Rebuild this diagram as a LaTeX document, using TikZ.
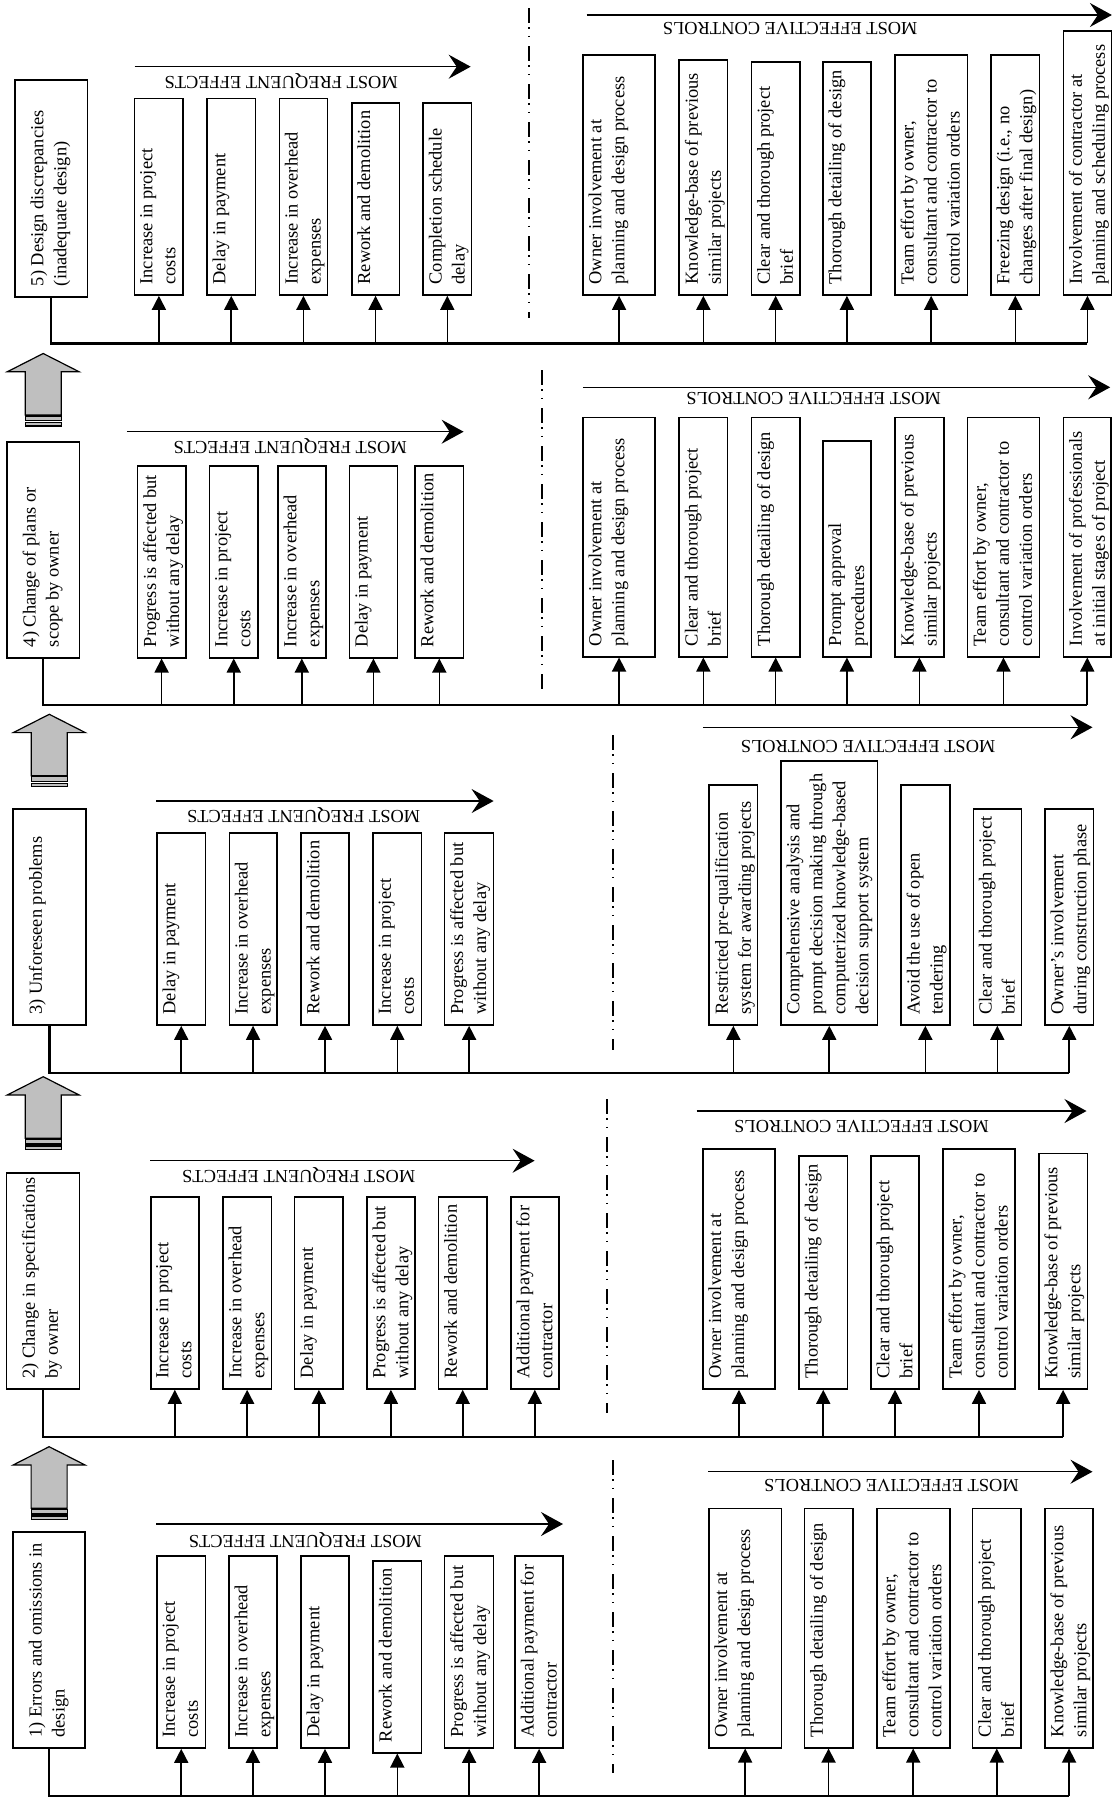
\documentclass[tikz,border=0pt]{standalone}
\usepackage{fontspec}
\setmainfont{Liberation Serif}
\usetikzlibrary{arrows.meta,fit}
\newcommand\bfnt{\fontsize{9.2pt}{11.5pt}\selectfont}
\tikzset{
 boxst/.style={draw, line width=0.8pt, inner sep=0pt},
 txtst/.style={rotate=90, align=left, inner sep=0pt, font=\bfnt},
 busst/.style={line width=1.2pt},
 arr/.style={line width=0.8pt, -{Triangle[length=7pt,width=7pt]}},
 longarr/.style={line width=0.7pt, -{Stealth[length=11pt,width=12pt,inset=4pt]}},
 lbl/.style={rotate=180, font=\bfnt, inner sep=0pt},
 sepst/.style={line width=0.9pt, dash pattern=on 7.5pt off 2.2pt on 0.7pt off 3.5pt on 0.7pt off 4.4pt},
 grayarr/.style={draw, fill=black!25, line width=0.6pt},
}
\newcommand\bx[6]{\node[boxst, fit={(#2,#3) (#4,#5)}] (#1) {};
 \node[txtst, anchor=north west] at ([xshift=3pt,yshift=5.5pt]#1.south west) {#6};}
\newcommand\cbx[6]{\node[boxst, fit={(#2,#3) (#4,#5)}] (#1) {};
 \node[txtst, anchor=north west] at ([xshift=8pt,yshift=5.5pt]#1.south west) {#6};}
\newcommand\grayup[2]{%
 \draw[grayarr] (#1,#2) -- (#1+36,#2+18.3) -- (#1+18,#2+18.3) -- (#1+18,#2+61.5) -- (#1-18,#2+61.5) -- (#1-18,#2+18.3) -- (#1-36,#2+18.3) -- cycle;
 \draw[grayarr] (#1-18,#2+62.5) rectangle (#1+18,#2+67.3);
 \draw[grayarr] (#1-18,#2+69.3) rectangle (#1+18,#2+72.5);}
\begin{document}
\begin{tikzpicture}[x=0.5pt,y=-0.5pt]
\useasboundingbox (0,0) rectangle (1113,1804);

% ---------------- Section 1 ----------------
\cbx{k1}{13.2}{1532}{85}{1748}{1) Errors and omissions in\\design}
\bx{e11}{157.1}{1556}{205.4}{1748}{Increase in project\\costs}
\bx{e12}{228.9}{1556}{276.8}{1748}{Increase in overhead\\expenses}
\bx{e13}{301.1}{1556}{348.9}{1748}{Delay in payment}
\bx{e14}{373.2}{1561}{421.4}{1752.7}{Rework and demolition}
\bx{e15}{444.6}{1556}{493.6}{1748}{Progress is affected but\\without any delay}
\bx{e16}{515}{1556}{563.2}{1748}{Additional payment for\\contractor}
\bx{c11}{708.8}{1508.3}{781.5}{1747.7}{Owner involvement at\\planning and design process}
\bx{c12}{804.4}{1508.3}{852.7}{1747.7}{Thorough detailing of design}
\bx{c13}{876.7}{1508.3}{949.7}{1747.7}{Team effort by owner,\\consultant and contractor to\\control variation orders}
\bx{c14}{972.6}{1508.3}{1021}{1747.7}{Clear and thorough project\\brief}
\bx{c15}{1044.9}{1508.3}{1093.2}{1747.7}{Knowledge-base of previous\\similar projects}
\coordinate (b1) at (0,1795.7);
\draw[busst] (k1.south) |- (c15.south |- b1);
\foreach \n in {e11,e12,e13,e14,e15,e16,c11,c12,c13,c14,c15} \draw[arr] (\n.south |- b1) -- (\n.south);
\node[lbl] (l1e) at (305.4,1540) {MOST FREQUENT EFFECTS};
\node[lbl] (l1c) at (891.5,1485) {MOST EFFECTIVE CONTROLS};
\draw[longarr] (156,1524) -- (563,1524);
\draw[longarr] (708.1,1471.7) -- (1092.5,1471.7);
\draw[sepst] (612.9,1460) -- (612.9,1773);
\grayup{49.1}{1446.7}

% ---------------- Section 2 ----------------
\cbx{k2}{6.4}{1172.7}{79.3}{1389}{2) Change in specifications\\by owner}
\bx{e21}{150.7}{1196.7}{198.9}{1389}{Increase in project\\costs}
\bx{e22}{222.9}{1196.7}{271.4}{1389}{Increase in overhead\\expenses}
\bx{e23}{294.6}{1196.7}{343.2}{1389}{Delay in payment}
\bx{e24}{366.8}{1196.7}{415}{1389}{Progress is affected but\\without any delay}
\bx{e25}{438.6}{1196.7}{486.8}{1389}{Rework and demolition}
\bx{e26}{510.7}{1196.7}{558.9}{1389}{Additional payment for\\contractor}
\bx{c21}{702.8}{1149}{775.1}{1389}{Owner involvement at\\planning and design process}
\bx{c22}{799.1}{1156}{847.4}{1389}{Thorough detailing of design}
\bx{c23}{871}{1156}{919}{1389}{Clear and thorough project\\brief}
\bx{c24}{943}{1149}{1015}{1389}{Team effort by owner,\\consultant and contractor to\\control variation orders}
\bx{c25}{1038.9}{1153.3}{1087.3}{1389}{Knowledge-base of previous\\similar projects}
\coordinate (b2) at (0,1436.7);
\draw[busst] (k2.south) |- (c25.south |- b2);
\foreach \n in {e21,e22,e23,e24,e25,e26,c21,c22,c23,c24,c25} \draw[arr] (\n.south |- b2) -- (\n.south);
\node[lbl] (l2e) at (298.8,1175) {MOST FREQUENT EFFECTS};
\node[lbl] (l2c) at (861.5,1126.3) {MOST EFFECTIVE CONTROLS};
\draw[longarr] (150,1160.7) -- (534.6,1160.7);
\draw[longarr] (696.5,1111) -- (1086.5,1111);
\draw[sepst] (606.9,1099) -- (606.9,1413);
\grayup{43.2}{1076.7}

% ---------------- Section 3 ----------------
\cbx{k3}{13.2}{809}{85.7}{1025}{3) Unforeseen problems}
\bx{e31}{157.1}{832.7}{205.4}{1025}{Delay in payment}
\bx{e32}{229.3}{832.7}{276.8}{1025}{Increase in overhead\\expenses}
\bx{e33}{301.1}{832.7}{348.9}{1025}{Rework and demolition}
\bx{e34}{373.2}{832.7}{421.4}{1025}{Increase in project\\costs}
\bx{e35}{444.6}{832.7}{493.6}{1025}{Progress is affected but\\without any delay}
\bx{c31}{709.2}{785}{757.5}{1025}{Restricted pre-qualification\\system for awarding projects}
\bx{c32}{781.1}{761}{877.4}{1025}{Comprehensive analysis and\\prompt decision making through\\computerized knowledge-based\\decision support system}
\bx{c33}{901}{785}{949.7}{1025}{Avoid the use of open\\tendering}
\bx{c34}{973.3}{809}{1021.3}{1025}{Clear and thorough project\\brief}
\bx{c35}{1044.9}{809}{1093.6}{1025}{Owner’s involvement\\during construction phase}
\coordinate (b3) at (0,1072.7);
\draw[busst] (k3.south) |- (c35.south |- b3);
\foreach \n in {e31,e32,e33,e34,e35,c31,c32,c33,c34,c35} \draw[arr] (\n.south |- b3) -- (\n.south);
\node[lbl] (l3e) at (303.6,815.5) {MOST FREQUENT EFFECTS};
\node[lbl] (l3c) at (868.1,746.2) {MOST EFFECTIVE CONTROLS};
\draw[longarr] (156,801) -- (493.6,801);
\draw[longarr] (702.8,727.3) -- (1092.5,727.3);
\draw[sepst] (612.9,735) -- (612.9,1050);
\grayup{49.3}{714.3}

% ---------------- Section 4 ----------------
\cbx{k4}{7.1}{441.7}{79.3}{657.7}{4) Change of plans or\\scope by owner}
\bx{e41}{137.5}{465.7}{185.7}{657.7}{Progress is affected but\\without any delay}
\bx{e42}{209.6}{465.7}{257.9}{657.7}{Increase in project\\costs}
\bx{e43}{277.9}{465.7}{325.7}{657.7}{Increase in overhead\\expenses}
\bx{e44}{349.3}{465.7}{397.5}{657.7}{Delay in payment}
\bx{e45}{415}{465.7}{463.6}{657.7}{Rework and demolition}
\bx{c41}{582.9}{417.3}{655.2}{656.7}{Owner involvement at\\planning and design process}
\bx{c42}{679.2}{417.3}{727.5}{656.7}{Clear and thorough project\\brief}
\bx{c43}{751.5}{417.3}{799.8}{656.7}{Thorough detailing of design}
\bx{c44}{822.7}{441}{871.1}{656.7}{Prompt approval\\procedures}
\bx{c45}{895}{417.3}{943.7}{656.7}{Knowledge-base of previous\\similar projects}
\bx{c46}{967.3}{417.3}{1039.6}{656.7}{Team effort by owner,\\consultant and contractor to\\control variation orders}
\bx{c47}{1063.3}{417.3}{1111.2}{656.7}{Involvement of professionals\\at initial stages of project}
\coordinate (b4) at (0,705);
\draw[busst] (k4.south) |- (c47.south |- b4);
\foreach \n in {e41,e42,e43,e44,e45,c41,c42,c43,c44,c45,c46,c47} \draw[arr] (\n.south |- b4) -- (\n.south);
\node[lbl] (l4e) at (290.2,445.8) {MOST FREQUENT EFFECTS};
\node[lbl] (l4c) at (813.6,398.7) {MOST EFFECTIVE CONTROLS};
\draw[longarr] (126.8,431.7) -- (463.6,431.7);
\draw[longarr] (582.9,387.3) -- (1110.2,387.3);
\draw[sepst] (542.1,370) -- (542.1,693);
\grayup{43.2}{353.5}

% ---------------- Section 5 ----------------
\cbx{k5}{15}{80}{87.5}{296.7}{5) Design discrepancies\\(inadequate design)}
\bx{e51}{134.6}{98.3}{183.2}{295}{Increase in project\\costs}
\bx{e52}{207.1}{98.3}{255.4}{295}{Delay in payment}
\bx{e53}{279.3}{98.3}{327.5}{295}{Increase in overhead\\expenses}
\bx{e54}{351.8}{102.7}{399.3}{295}{Rework and demolition}
\bx{e55}{423.2}{102.7}{471.4}{295}{Completion schedule\\delay}
\bx{c51}{582.9}{55}{655.2}{295}{Owner involvement at\\planning and design process}
\bx{c52}{679.2}{60}{727.5}{295}{Knowledge-base of previous\\similar projects}
\bx{c53}{751.5}{61.7}{799.8}{295}{Clear and thorough project\\brief}
\bx{c54}{822.7}{61.7}{871.1}{295}{Thorough detailing of design}
\bx{c55}{895}{55}{967.3}{295}{Team effort by owner,\\consultant and contractor to\\control variation orders}
\bx{c56}{991}{55}{1039.6}{295}{Freezing design (i.e., no\\changes after final design)}
\bx{c57}{1063.3}{30.7}{1111.5}{295}{Involvement of contractor at\\planning and scheduling process}
\coordinate (b5) at (0,343.3);
\draw[busst] (k5.south) |- (c57.south |- b5);
\foreach \n in {e51,e52,e53,e54,e55,c51,c52,c53,c54,c55,c56,c57} \draw[arr] (\n.south |- b5) -- (\n.south);
\node[lbl] (l5e) at (281.2,80.8) {MOST FREQUENT EFFECTS};
\node[lbl] (l5c) at (790.2,28) {MOST EFFECTIVE CONTROLS};
\draw[longarr] (134.6,66.7) -- (470.7,66.7);
\draw[longarr] (586.5,15) -- (1111.9,15);
\draw[sepst] (529.3,8) -- (529.3,318);
\end{tikzpicture}
\end{document}
